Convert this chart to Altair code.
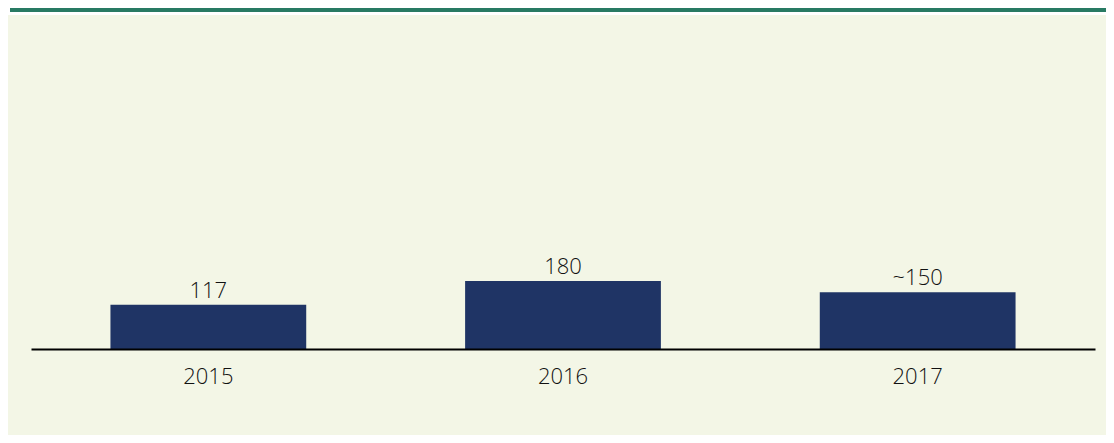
import altair as alt
import pandas as pd

years = ["2015", "2016", "2017"]
values = [117, 180, 150]
labels = ["117", "180", "~150"]

df = pd.DataFrame({"year": years, "value": values, "label": labels})
one = pd.DataFrame({"a": [0]})

FONT = "Open Sans"
TEXT = "#111111"

x_enc = alt.X(
    "year:N",
    sort=years,
    scale=alt.Scale(paddingInner=0.448, paddingOuter=0.224),
    axis=alt.Axis(
        title=None, ticks=False, tickSize=0, labelPadding=34,
        labelBaseline="alphabetic", labelFont=FONT, labelFontSize=22,
        labelFontWeight=300,
        labelColor=TEXT, labelAngle=0, domainColor="#000000", domainWidth=2,
        grid=False, zindex=1,
    ),
)
y_enc = alt.Y("value:Q", scale=alt.Scale(domain=[0, 850], nice=False), axis=None)

panel = alt.Chart(one).mark_rect(color="#f3f6e6").encode(
    x=alt.value(-23), x2=alt.value(1075), y=alt.value(-13), y2=alt.value(407)
)
green = alt.Chart(one).mark_rect(color="#287a63").encode(
    x=alt.value(-21), x2=alt.value(1075), y=alt.value(-20), y2=alt.value(-16)
)

bars = alt.Chart(df).mark_bar(color="#1f3465").encode(x=x_enc, y=y_enc)
text = alt.Chart(df).mark_text(
    font=FONT, fontSize=22, fontWeight=300, color=TEXT, baseline="alphabetic", dy=-7
).encode(x=alt.X("year:N", sort=years), y=alt.Y("value:Q"), text="label:N")

chart = alt.layer(panel, green, bars, text).properties(
    width=1064, height=321,
    autosize=alt.AutoSizeParams(type="none"),
    padding={"left": 23, "top": 20, "right": 11, "bottom": 86},
    background="#ffffff",
).configure_view(stroke=None)

chart.save("out.html", embed_options={"renderer": "svg", "actions": False})
